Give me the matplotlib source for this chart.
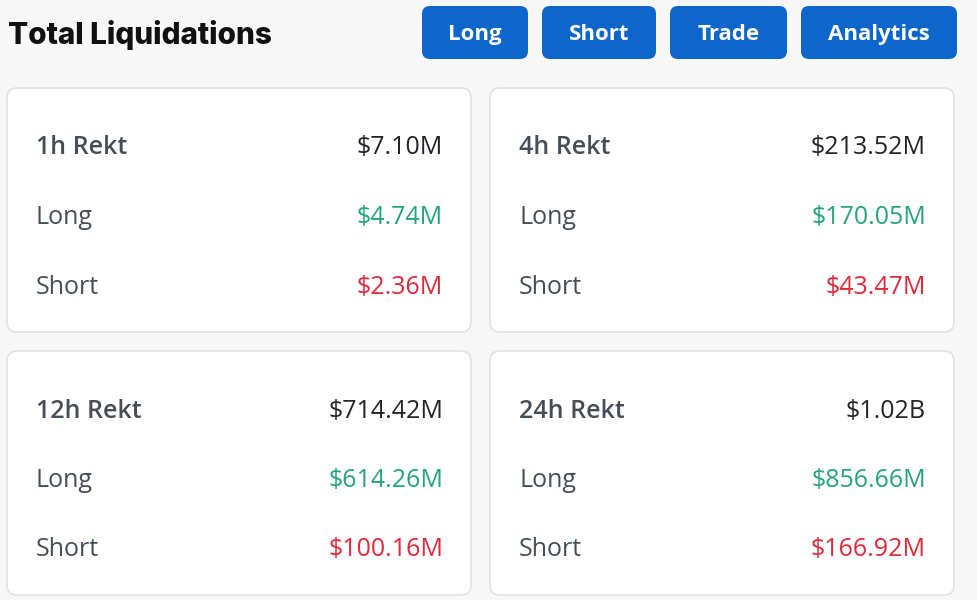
#!/usr/bin/env python3
"""Total liquidations summary panel (1h / 4h / 12h / 24h rekt)."""
import matplotlib
matplotlib.use("Agg")
import matplotlib.pyplot as plt
from matplotlib.patches import FancyBboxPatch

# values in millions of USD
periods = ["1h", "4h", "12h", "24h"]
totals = [7.10, 213.52, 714.42, 1020.0]
longs = [4.74, 170.05, 614.26, 856.66]
shorts = [2.36, 43.47, 100.16, 166.92]
buttons = ["Long", "Short", "Trade", "Analytics"]

BG = "#f7f7f7"
BLUE = "#0d66c9"
GREEN = "#23a37e"
RED = "#e1283b"
DARK = "#222429"
LABEL = "#474d57"


def money(m):
    if m >= 1000:
        return "${:.2f}B".format(m / 1000)
    return "${:.2f}M".format(m)


def main():
    fig = plt.figure(figsize=(9.77, 6.0), dpi=100)
    fig.patch.set_facecolor(BG)
    ax = fig.add_axes([0, 0, 1, 1])
    ax.set_xlim(0, 977)
    ax.set_ylim(600, 0)
    ax.axis("off")

    ax.text(8, 35, "Total Liquidations", fontsize=21.4, fontweight="heavy",
            family="Inter", color="#111111", va="center", ha="left")

    # buttons
    bx = [422, 542, 670, 801]
    bw = [106, 114, 117, 156]
    for name, x, w in zip(buttons, bx, bw):
        ax.add_patch(FancyBboxPatch((x, 6), w, 53,
                                    boxstyle="round,pad=0,rounding_size=8",
                                    fc=BLUE, ec="none"))
        ax.text(x + w / 2, 34.5, name, fontsize=16, fontweight="bold",
                family="Open Sans", color="white", ha="center", va="center")

    # cards
    card_x = [7, 490, 7, 490]
    card_y = [88, 88, 351, 351]
    cw, ch = 464, 244
    for i, p in enumerate(periods):
        x0, y0 = card_x[i], card_y[i]
        ax.add_patch(FancyBboxPatch((x0, y0), cw, ch,
                                    boxstyle="round,pad=0,rounding_size=10",
                                    fc="white", ec="#e2e2e2", lw=1.2))
        lx = x0 + 29
        rx = x0 + cw - 28
        rows = [
            (p + " Rekt", money(totals[i]), DARK, "semibold"),
            ("Long", money(longs[i]), GREEN, "normal"),
            ("Short", money(shorts[i]), RED, "normal"),
        ]
        for j, (lab, val, col, wt) in enumerate(rows):
            yy = y0 + 60 + j * 69.5
            ax.text(lx, yy, lab, fontsize=18, fontweight=wt,
                    family="Open Sans", color=LABEL, ha="left", va="center")
            ax.text(rx, yy, val, fontsize=18, family="Open Sans",
                    color=col, ha="right", va="center")

    fig.savefig("out.png", dpi=100, facecolor=BG)
    return 0


if __name__ == "__main__":
    raise SystemExit(main())
